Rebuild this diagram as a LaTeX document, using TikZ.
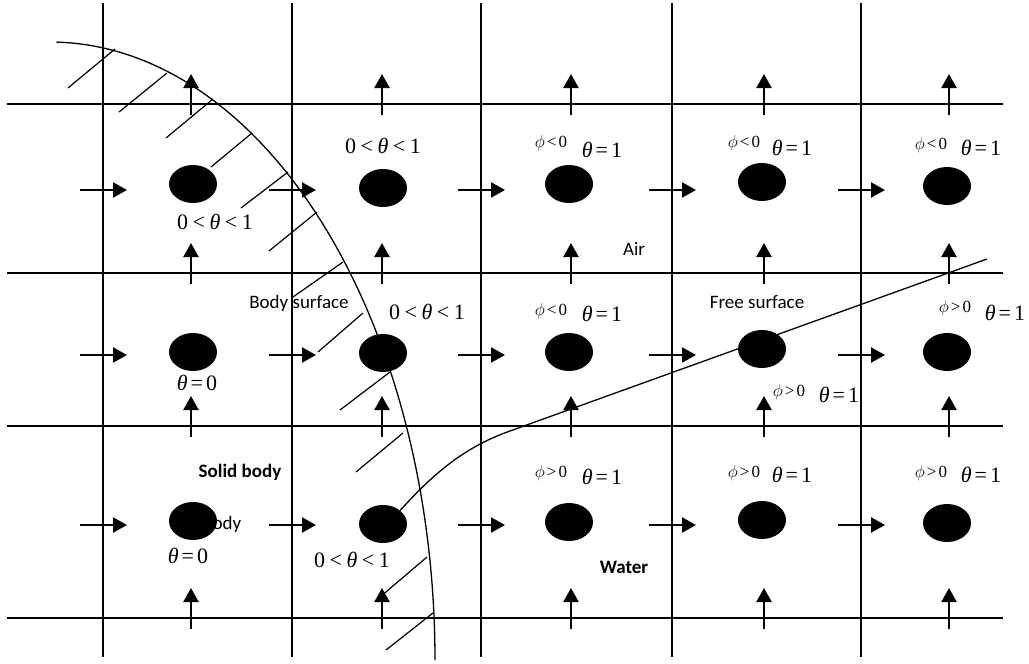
\documentclass[tikz,border=0pt]{standalone}
\usepackage{fontspec}
\newfontfamily\sansfam{Carlito}
\newfontfamily\tnr{Liberation Serif}
\usetikzlibrary{arrows.meta,shapes.geometric}
\newcommand{\lt}{\hspace{4.5pt}<\hspace{4.5pt}}
\newcommand{\eqs}{\hspace{3pt}=\hspace{3pt}}
\newcommand{\thl}{\textit{θ}}
\newcommand{\btw}{0\lt\thl\lt1}
\newcommand{\phl}[1]{$\phi$\hspace{2pt}#1\hspace{2pt}0}
\tikzset{
 gridline/.style={line width=1.3pt, black},
 arr/.style={line width=2.2pt, -{Triangle[width=15pt,length=14pt]}},
 dot/.style={ellipse, fill=black, minimum width=48pt, minimum height=38pt, inner sep=0pt},
 th/.style={font=\tnr\fontsize{22}{25}\selectfont, inner sep=0pt},
 ph/.style={font=\tnr\fontsize{17}{20}\selectfont, inner sep=0pt},
 lab/.style={font=\sansfam\fontsize{19}{22}\selectfont, inner sep=0pt},
 blab/.style={font=\sansfam\bfseries\fontsize{19}{22}\selectfont, inner sep=0pt},
 hatch/.style={line width=1.2pt},
 curve/.style={line width=1.3pt},
}
\begin{document}
\begin{tikzpicture}[x=1pt,y=-1pt]
\useasboundingbox[fill=white] (0,0) rectangle (1029,664);
% grid
\foreach \x in {103,292,481,672,861} \draw[gridline] (\x,3) -- (\x,657);
\foreach \y in {104,273,426,618} \draw[gridline] (7,\y) -- (1003,\y);
% body surface
\draw[curve] plot[domain=0:89, samples=80, smooth] ({50+385*cos(\x)},{660-618*sin(\x)});
% hatches
\foreach \a/\b/\c/\d in {115/49/68/88, 167/73/119/112, 213/99/166/138, 252/133/211/167,
  288/172/241/208, 317/212/269/251, 343/262/293/297, 363/313/318/352, 390/372/340/410,
  403/433/356/472, 427/557/380/597, 433/613/386/650}
  \draw[hatch] (\a,\b) -- (\c,\d);
% text behind dot
\node[lab] (bodyhidden) at (222,524) {body};
% dots
\node[dot] (d11) at (193,184) {};
\node[dot] (d12) at (383,188) {};
\node[dot] (d13) at (569,184) {};
\node[dot] (d14) at (762,182) {};
\node[dot] (d15) at (947,186) {};
\node[dot] (d21) at (193,352) {};
\node[dot] (d22) at (383,353) {};
\node[dot] (d23) at (569,352) {};
\node[dot] (d24) at (762,349) {};
\node[dot] (d25) at (947,352) {};
\node[dot] (d31) at (193,521) {};
\node[dot] (d32) at (383,524) {};
\node[dot] (d33) at (569,522) {};
\node[dot] (d34) at (762,520) {};
\node[dot] (d35) at (947,523) {};
% free surface
\coordinate (fsend) at (987,259);
\draw[curve] (d32.north east) .. controls (435,472) and (465,447) .. (510,431) -- (fsend);
% right arrows
\foreach \y in {190,355,525}
  \foreach \x in {103,292,481,672,861}
    \draw[arr] (\x-23,\y) -- (\x+24,\y);
% up arrows
\foreach \y in {104,273,426,618}
  \foreach \x in {191,382,571,764,949}
    \draw[arr] (\x,\y+11) -- (\x,\y-30);
% labels row 1
\node[th] (t11) at (215,222) {\btw};
\node[th] (t12) at (383,146) {\btw};
\node[ph] (p13) at (551,143) {\phl{<}};
\node[th] (t13) at (602,150) {\thl\eqs1};
\node[ph] (p14) at (744,143) {\phl{<}};
\node[th] (t14) at (792,148) {\thl\eqs1};
\node[ph] (p15) at (931,145) {\phl{<}};
\node[th] (t15) at (981,148) {\thl\eqs1};
% labels row 2
\node[th] (t21) at (197,383) {\thl\eqs0};
\node[th] (t22) at (427,312) {\btw};
\node[ph] (p23) at (551,311) {\phl{<}};
\node[th] (t23) at (602,314) {\thl\eqs1};
\node[ph] (p24) at (789,392) {\phl{>}};
\node[th] (t24) at (839,395) {\thl\eqs1};
\node[ph] (p25) at (955,308) {\phl{>}};
\node[th] (t25) at (1005,313) {\thl\eqs1};
% labels row 3
\node[th] (t31) at (188,556) {\thl\eqs0};
\node[th] (t32) at (352,560) {\btw};
\node[ph] (p33) at (551,473) {\phl{>}};
\node[th] (t33) at (602,477) {\thl\eqs1};
\node[ph] (p34) at (744,473) {\phl{>}};
\node[th] (t34) at (792,475) {\thl\eqs1};
\node[ph] (p35) at (931,473) {\phl{>}};
\node[th] (t35) at (981,475) {\thl\eqs1};
% region labels
\node[lab] (bodysurf) at (299,303) {Body surface};
\node[lab] (air) at (634,249) {Air};
\node[lab] (freesurf) at (757,302) {Free surface};
\node[blab] (solid) at (240,472) {Solid body};
\node[blab] (water) at (624,567) {Water};
\end{tikzpicture}
\end{document}
